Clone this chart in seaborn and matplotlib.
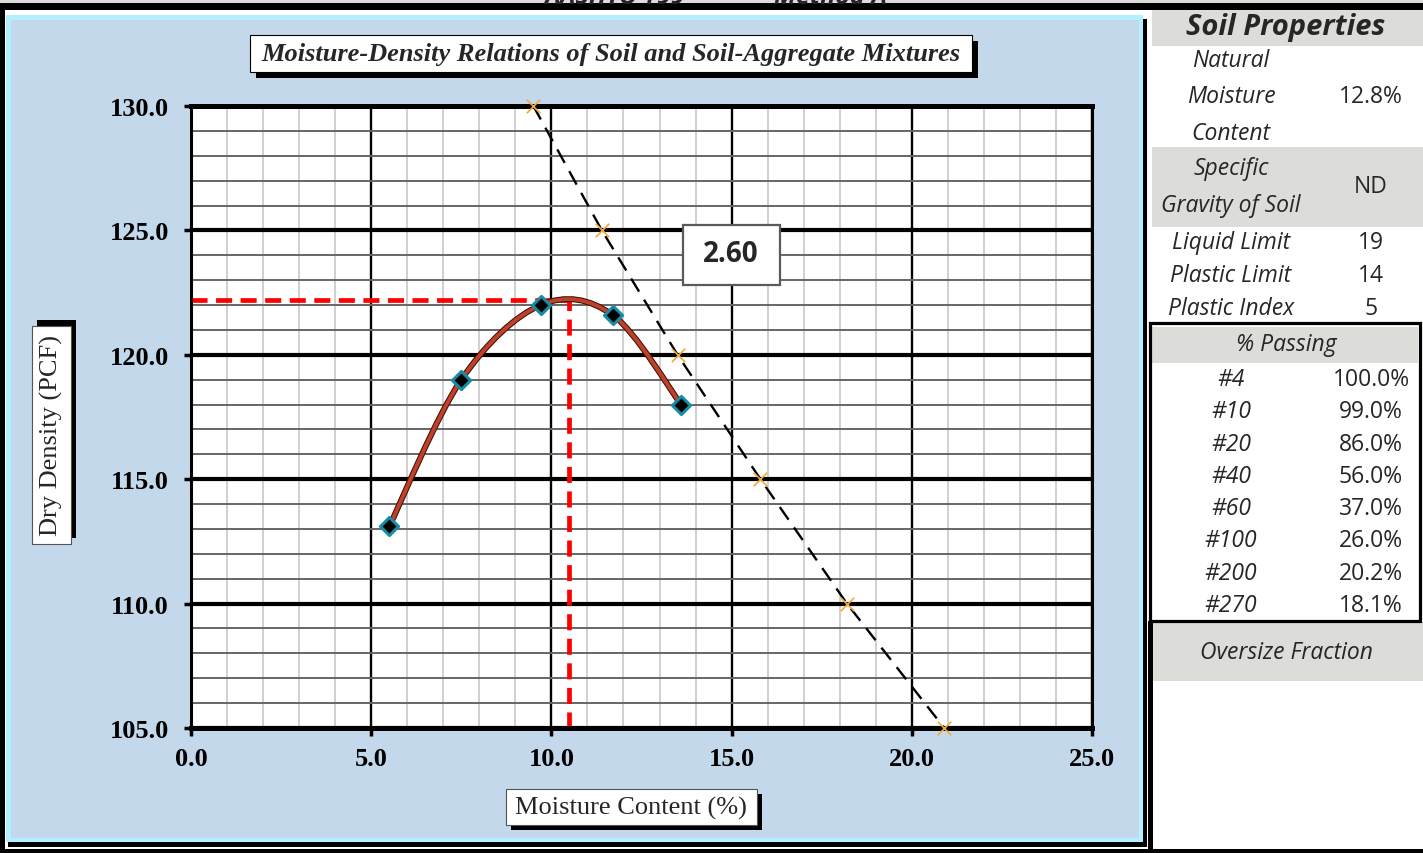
import numpy as np
import pandas as pd
import seaborn as sns
import matplotlib.pyplot as plt
import matplotlib.patheffects as pe
from matplotlib.patches import Rectangle, PathPatch
from matplotlib.path import Path
from matplotlib.ticker import MultipleLocator, FormatStrFormatter

# Compaction test points (moisture %, dry density pcf)
moisture = [5.5, 7.5, 9.7, 11.7, 13.6]
dry_density = [113.1, 119.0, 122.0, 121.6, 118.0]

# Zero air voids line for the specific gravity shown in the box
zav_moisture = [9.5, 11.4, 13.5, 15.8, 18.2, 20.9]
zav_density = [130.0, 125.0, 120.0, 115.0, 110.0, 105.0]
gs_label = "2.60"

# Maximum dry density / optimum moisture
max_density = 122.2
opt_moisture = 10.5

x_limits = [0.0, 25.0]
y_limits = [105.0, 130.0]

# Soil properties table
natural_lines = ["Natural", "Moisture", "Content"]
natural_value = "12.8%"
gravity_lines = ["Specific", "Gravity of Soil"]
gravity_value = "ND"
limit_names = ["Liquid Limit", "Plastic Limit", "Plastic Index"]
limit_values = ["19", "14", "5"]
sieve_names = ["#4", "#10", "#20", "#40", "#60", "#100", "#200", "#270"]
passing_values = ["100.0%", "99.0%", "86.0%", "56.0%", "37.0%", "26.0%", "20.2%", "18.1%"]

sns.set_theme(style="white")
plt.rcParams["font.family"] = ["Liberation Serif", "DejaVu Sans"]
table_font = "Open Sans"

fig = plt.figure(figsize=(14.23, 8.54), dpi=100)
fig.patch.set_facecolor("white")

# Background layer in pixel coordinates
bg = fig.add_axes([0, 0, 1, 1], zorder=0)
bg.set_xlim(0, 1423)
bg.set_ylim(854, 0)
bg.axis("off")


def box(x0, y0, x1, y1, **kw):
    p = Rectangle((x0, y0), x1 - x0, y1 - y0, **kw)
    bg.add_patch(p)
    return p


# header strip, cut off at the top like the sheet it comes from
box(0, 0, 1423, 5, color="#DCDCD8", lw=0)
bg.text(615, 4, "AASHTO T99", family=table_font, fontsize=18, fontweight="bold",
        style="italic", ha="center", va="baseline")
bg.text(830, 4, "Method A", family=table_font, fontsize=18, fontweight="bold",
        style="italic", ha="center", va="baseline")
box(0, 4, 1423, 11, color="black", lw=0, zorder=2)
box(0, 4, 5, 854, color="black", lw=0, zorder=2)

# chart area
box(6, 16, 1143, 843, color="#B3F0FF", lw=0)
box(11, 21, 1139, 839, color="#C4D8EB", lw=0)
box(1143, 20, 1147, 848, color="black", lw=0)
box(8, 843, 1147, 848, color="black", lw=0)

# title box
box(256, 42, 978, 79, color="black", lw=0)
box(250, 36, 972, 73, facecolor="white", edgecolor="black", lw=0.8)
bg.text(611, 55, "Moisture-Density Relations of Soil and Soil-Aggregate Mixtures",
        fontsize=19, fontweight="bold", style="italic", ha="center", va="center")

# y label box
box(37, 321, 76, 539, color="black", lw=0)
box(32, 327, 71, 545, facecolor="white", edgecolor="#555555", lw=0.8)
bg.text(51, 436, "Dry Density (PCF)", fontsize=19, rotation=90, ha="center", va="center")

# x label box
box(511, 795, 762, 831, color="black", lw=0)
box(506, 790, 757, 826, facecolor="white", edgecolor="#555555", lw=0.8)
bg.text(631, 808, "Moisture Content (%)", fontsize=19, ha="center", va="center")

# right table
box(1152, 11, 1423, 47, color="#DCDCD8", lw=0)
box(1152, 148, 1423, 228, color="#DCDCD8", lw=0)
box(1152, 328, 1418, 364, color="#DCDCD8", lw=0)
box(1153, 623, 1423, 682, color="#DCDCD8", lw=0)
box(1150, 324, 1420, 622, fill=False, edgecolor="black", lw=2.3, zorder=3)
box(1148, 622, 1153, 854, color="black", lw=0, zorder=3)
box(0, 850, 1423, 854, color="black", lw=0, zorder=3)

label_x = 1231
value_x = 1371
body = dict(family=table_font, fontsize=16.5, ha="center", va="center")

bg.text(1286, 28, "Soil Properties", family=table_font, fontsize=21, fontweight="bold",
        style="italic", ha="center", va="center")
for txt, yy in zip(natural_lines, [61, 97, 134]):
    bg.text(label_x, yy, txt, style="italic", **body)
bg.text(value_x, 97, natural_value, **body)
for txt, yy in zip(gravity_lines, [169, 206]):
    bg.text(label_x, yy, txt, style="italic", **body)
bg.text(value_x, 187, gravity_value, **body)
for i, (name, val) in enumerate(zip(limit_names, limit_values)):
    yy = 243 + 33 * i
    bg.text(label_x, yy, name, style="italic", **body)
    bg.text(value_x, yy, val, **body)
bg.text(1286, 345, "% Passing", style="italic", **body)
for i, (name, val) in enumerate(zip(sieve_names, passing_values)):
    yy = 380 + 32.3 * i
    bg.text(label_x, yy, name, style="italic", **body)
    bg.text(value_x, yy, val, **body)
bg.text(1286, 653, "Oversize Fraction", style="italic", **body)

# Main chart axes
ax = fig.add_axes([191 / 1423, 125 / 854, 901 / 1423, 622 / 854], zorder=2)
ax.set_facecolor("white")
ax.set_xlim(x_limits)
ax.set_ylim(y_limits)

ax.xaxis.set_major_locator(MultipleLocator(5))
ax.xaxis.set_minor_locator(MultipleLocator(1))
ax.yaxis.set_major_locator(MultipleLocator(5))
ax.yaxis.set_minor_locator(MultipleLocator(1))
ax.xaxis.set_major_formatter(FormatStrFormatter("%.1f"))
ax.yaxis.set_major_formatter(FormatStrFormatter("%.1f"))

ax.grid(False)
ax.xaxis.grid(True, which="minor", color="#C4C4C4", linewidth=1.1)
ax.yaxis.grid(True, which="minor", color="#666666", linewidth=1.4)
ax.xaxis.grid(True, which="major", color="black", linewidth=1.7)
ax.yaxis.grid(True, which="major", color="black", linewidth=3.0)
ax.set_axisbelow(True)

for side, lw in [("left", 2.2), ("right", 2.2), ("top", 3.6), ("bottom", 3.6)]:
    ax.spines[side].set_linewidth(lw)
    ax.spines[side].set_color("black")

ax.tick_params(axis="x", which="major", direction="out", length=6, width=2.5,
               color="black", pad=8, bottom=True)
ax.tick_params(axis="y", which="major", direction="out", length=5, width=2.5,
               color="black", pad=11, left=True)
ax.tick_params(which="minor", length=0)

# Red lines at optimum moisture / max dry density
ax.hlines(max_density, x_limits[0], opt_moisture, colors="#FF0000", linewidth=3.4,
          linestyles=(0, (3.4, 1.8)), zorder=2.5)
ax.vlines(opt_moisture, y_limits[0], max_density, colors="#FF0000", linewidth=3.4,
          linestyles=(0, (3.4, 1.8)), zorder=2.5)

# Zero air voids line
sns.lineplot(x=zav_moisture, y=zav_density, sort=False, estimator=None, color="black",
             linewidth=1.7, linestyle=(0, (6.5, 4)), ax=ax, zorder=2.6)
sns.scatterplot(x=zav_moisture, y=zav_density, marker="x", s=95, color="#F2A93B",
                linewidth=1.2, ax=ax, zorder=5, clip_on=False, legend=False)

# Smoothed compaction curve through the test points
pts = np.column_stack([moisture, dry_density])
n = len(pts)
tang = [(pts[min(i + 1, n - 1)] - pts[max(i - 1, 0)]) / 6 for i in range(n)]
verts = [pts[0]]
codes = [Path.MOVETO]
for i in range(n - 1):
    verts += [pts[i] + tang[i], pts[i + 1] - tang[i + 1], pts[i + 1]]
    codes += [Path.CURVE4] * 3
curve = PathPatch(Path(verts, codes), facecolor="none", edgecolor="#C0402A", lw=2.8,
                  zorder=3, path_effects=[pe.Stroke(linewidth=4.3, foreground="#3A1208"),
                                          pe.Normal()])
ax.add_patch(curve)

sns.scatterplot(x=moisture, y=dry_density, marker="D", s=85, color="black",
                edgecolor="#168DA3", linewidth=2.2, ax=ax, zorder=4, legend=False)

ax.set_xlabel("")
ax.set_ylabel("")
for lbl in ax.get_xticklabels() + ax.get_yticklabels():
    lbl.set_fontweight("bold")
    lbl.set_fontsize(19)
    lbl.set_color("black")

# Specific gravity box
gs_box = Rectangle((683, 226), 97, 60, facecolor="white", edgecolor="#5B5B55", lw=1.6,
                   transform=bg.transData, clip_on=False, zorder=6)
ax.add_patch(gs_box)
ax.text(731, 255, gs_label, transform=bg.transData, family=table_font, fontsize=20,
        fontweight="bold", ha="center", va="center", zorder=7)

fig.savefig("out.png", dpi=100)
